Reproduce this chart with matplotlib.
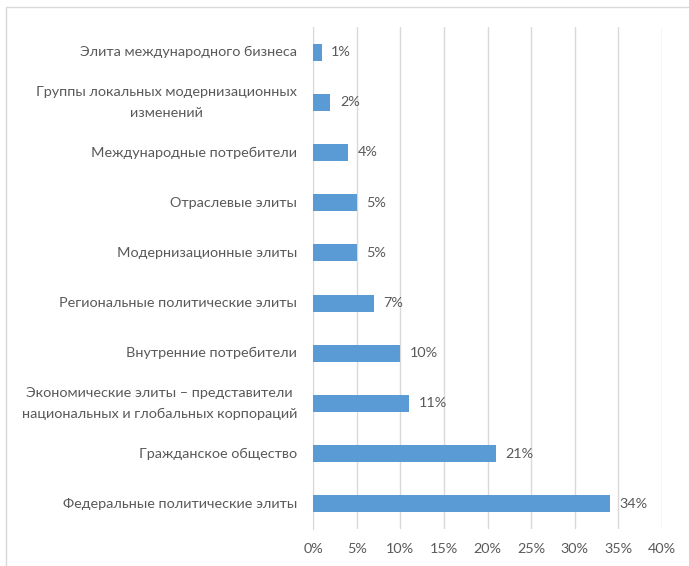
import matplotlib.pyplot as plt
from matplotlib.patches import Rectangle

plt.rcParams['font.family'] = ['Lato', 'DejaVu Sans']

categories = [
    "Элита международного бизнеса",
    "Группы локальных модернизационных\nизменений",
    "Международные потребители",
    "Отраслевые элиты",
    "Модернизационные элиты",
    "Региональные политические элиты",
    "Внутренние потребители",
    "Экономические элиты – представители\nнациональных и глобальных корпораций",
    "Гражданское общество",
    "Федеральные политические элиты",
]
values = [1, 2, 4, 5, 5, 7, 10, 11, 21, 34]
ticks = [0, 5, 10, 15, 20, 25, 30, 35, 40]

text_color = "#595959"
bar_color = "#5B9BD5"
grid_color = "#D9D9D9"

fig = plt.figure(figsize=(6.89, 5.66), dpi=100)
fig.patches.append(Rectangle((6 / 689, -0.01), 1.0, 1 - 7 / 566 + 0.01,
                             transform=fig.transFigure, fill=False,
                             edgecolor=grid_color, linewidth=1))
ax = fig.add_axes([313 / 689, 1 - 529 / 566, 349 / 689, 502 / 566])

ypos = list(range(len(categories)))
ax.barh(ypos, values, height=0.34, color=bar_color, zorder=3)
ax.set_ylim(len(categories) - 0.5, -0.5)
ax.set_xlim(0, 40)
ax.set_yticks(ypos)
ax.set_yticklabels(categories, fontsize=10.4, color=text_color, linespacing=1.85)
ax.set_xticks(ticks)
ax.set_xticklabels([f"{t}%" for t in ticks], fontsize=10.4, color=text_color)
ax.tick_params(axis="both", length=0)
ax.tick_params(axis="y", pad=11.5)
ax.tick_params(axis="x", pad=10)
for lbl in ax.get_yticklabels():
    lbl.set_horizontalalignment("right")
    lbl.set_multialignment("center")
    lbl.set_verticalalignment("center")

ax.grid(axis="x", color=grid_color, linewidth=1, zorder=0)
for s in ["top", "right", "bottom"]:
    ax.spines[s].set_visible(False)
ax.spines["left"].set_color(grid_color)

for y, v in zip(ypos, values):
    ax.text(v + 1.1, y, f"{v}%", va="center", ha="left", fontsize=10.4, color=text_color)

fig.savefig("out.png", dpi=100)
